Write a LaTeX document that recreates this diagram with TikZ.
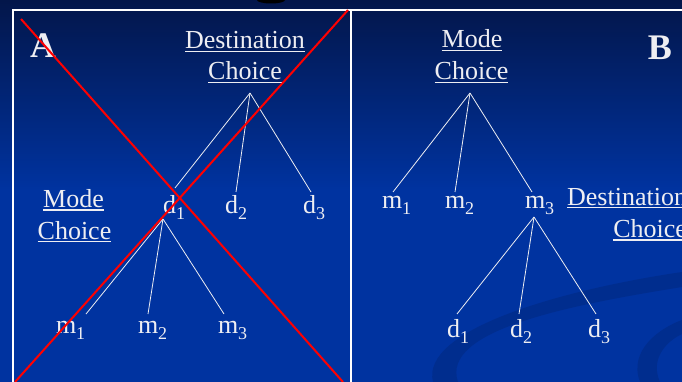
\documentclass[tikz,border=0pt]{standalone}
\usepackage{fontspec}
\setmainfont{Liberation Serif}
\definecolor{bgtop}{HTML}{03164A}
\definecolor{bgmid}{HTML}{0033A0}
\definecolor{swoosh}{HTML}{002D8E}
\definecolor{txt}{HTML}{EEEEF2}
\newcommand{\lowsub}[1]{\raisebox{-6.5pt}{\fontsize{18}{18}\selectfont #1}}
\tikzset{
  lab/.style={text=txt, inner sep=0pt, outer sep=0pt, font=\fontsize{26}{30}\selectfont},
  head/.style={lab, anchor=base},
  leaf/.style={lab, anchor=base west},
  bigl/.style={text=txt, inner sep=0pt, outer sep=0pt, font=\fontsize{36}{40}\selectfont\bfseries},
  branch/.style={draw=txt, line width=0.8pt},
  uline/.style={draw=txt, line width=1.6pt},
  frame/.style={draw=white, line width=1.3pt},
  cross/.style={draw=red, line width=2pt},
}
\begin{document}
\begin{tikzpicture}[x=1pt,y=-1pt]
\clip (0,0) rectangle (682,382);
% background
\fill[bgmid] (0,0) rectangle (682,382);
\shade[top color=bgtop, bottom color=bgmid] (0,0) rectangle (682,190);
% swooshes
\fill[swoosh] (433,382) .. controls (420,330) and (560,290) .. (682,272)
  -- (682,287) .. controls (570,305) and (440,330) .. (458,382) -- cycle;
\fill[swoosh] (640,382) .. controls (628,350) and (660,328) .. (682,320)
  -- (682,334) .. controls (665,342) and (650,360) .. (660,382) -- cycle;
\fill[black] (271,0) ellipse (14 and 3.5);
% frame
\draw[frame] (13,382) -- (13,10) -- (682,10);
\draw[frame] (351,10) -- (351,382);

% panel labels
\node[bigl, anchor=base west] (A) at (30,58) {A};
\node[bigl, anchor=base east] (B) at (672,60) {B};

% headings
\node[head] (Ldest) at (245,49) {Destination};
\node[head] (LchoiceA) at (245,80) {Choice};
\node[head] (Lmode) at (73.5,207.5) {Mode};
\node[head] (LchoiceB) at (74.5,239) {Choice};
\node[head] (Rmode) at (472,48) {Mode};
\node[head] (RchoiceA) at (471.5,80) {Choice};
\node[head, anchor=base east] (Rdest) at (687,205) {Destination};
\node[head, anchor=base east] (RchoiceB) at (687,237.5) {Choice};
\foreach \n in {Ldest,LchoiceA,Lmode,LchoiceB,Rmode,RchoiceA,Rdest,RchoiceB}
  \draw[uline] ([yshift=-2.5pt]\n.base west) -- ([yshift=-2.5pt]\n.base east);

% left tree leaves
\node[leaf] (Ld1) at (163,213) {d\lowsub{1}};
\node[leaf] (Ld2) at (225,213) {d\lowsub{2}};
\node[leaf] (Ld3) at (303,213) {d\lowsub{3}};
\node[leaf] (Lm1) at (56,333) {m\lowsub{1}};
\node[leaf] (Lm2) at (138,333) {m\lowsub{2}};
\node[leaf] (Lm3) at (218,333) {m\lowsub{3}};
% right tree leaves
\node[leaf] (Rm1) at (382,208) {m\lowsub{1}};
\node[leaf] (Rm2) at (445,208) {m\lowsub{2}};
\node[leaf] (Rm3) at (525,208) {m\lowsub{3}};
\node[leaf] (Rd1) at (447,337) {d\lowsub{1}};
\node[leaf] (Rd2) at (510,337) {d\lowsub{2}};
\node[leaf] (Rd3) at (588,337) {d\lowsub{3}};

% branch points
\coordinate (Lapex) at (250,93);
\coordinate (Ld1in) at (175,188);
\coordinate (Ld2in) at (236,192);
\coordinate (Ld3in) at (311,192);
\coordinate (Ld1out) at (163,219);
\coordinate (Lm1in) at (86,314);
\coordinate (Lm2in) at (148,314);
\coordinate (Lm3in) at (224,314);
\coordinate (Rapex) at (470,93);
\coordinate (Rm1in) at (393,192);
\coordinate (Rm2in) at (455,192);
\coordinate (Rm3in) at (532,192);
\coordinate (Rm3out) at (534,217);
\coordinate (Rd1in) at (457,314);
\coordinate (Rd2in) at (519,314);
\coordinate (Rd3in) at (596,314);

\foreach \e in {Ld1in,Ld2in,Ld3in} \draw[branch] (Lapex) -- (\e);
\foreach \e in {Lm1in,Lm2in,Lm3in} \draw[branch] (Ld1out) -- (\e);
\foreach \e in {Rm1in,Rm2in,Rm3in} \draw[branch] (Rapex) -- (\e);
\foreach \e in {Rd1in,Rd2in,Rd3in} \draw[branch] (Rm3out) -- (\e);

% red cross
\coordinate (XaS) at (21,19);
\coordinate (XaE) at (343,382);
\coordinate (XbS) at (348,10);
\coordinate (XbE) at (15,382);
\draw[cross] (XaS) -- (XaE);
\draw[cross] (XbS) -- (XbE);
\end{tikzpicture}
\end{document}
